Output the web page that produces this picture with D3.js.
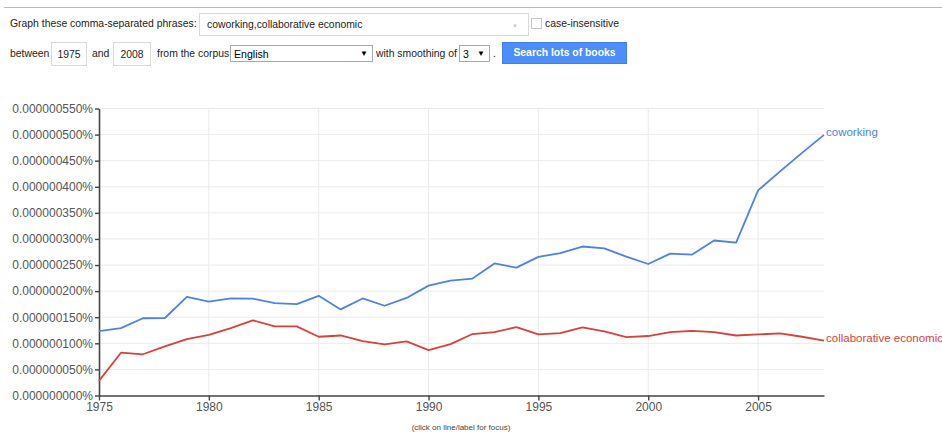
<!DOCTYPE html>
<html>
<head>
<meta charset="utf-8">
<script src="https://cdn.jsdelivr.net/npm/d3@7/dist/d3.min.js"></script>
<style>
  body { margin:0; width:942px; height:434px; background:#fff; font-family: Arial, "Liberation Sans", sans-serif; overflow:hidden; position:relative; }
  .abs { position:absolute; }
  .lbl { font-size:10.4px; color:#222; white-space:nowrap; }
  .box { border:1px solid #d9d9d9; background:#fff; box-sizing:border-box; font-size:10.4px; color:#222; white-space:nowrap; }
  .sel { border:1px solid #a9a9a9; background:#fff; box-sizing:border-box; font-size:10.6px; color:#000; }
  svg text { font-family: Arial, "Liberation Sans", sans-serif; }
</style>
</head>
<body>
<div class="abs" style="left:4px;top:7px;width:938px;height:0;border-top:1px solid #bbb;"></div>
<div class="abs lbl" style="left:10px;top:18px;">Graph these comma-separated phrases:</div>
<div class="abs box" style="left:199px;top:13px;width:330px;height:23px;padding:5px 0 0 7px;">coworking,collaborative economic</div>
<div class="abs" style="left:512px;top:23px;font-size:6px;color:#ccc;">▼</div>
<div class="abs" style="left:531px;top:18px;width:11px;height:11px;border:1px solid #c6c6c6;box-sizing:border-box;"></div>
<div class="abs lbl" style="left:545px;top:18px;">case-insensitive</div>
<div class="abs lbl" style="left:10px;top:48px;">between</div>
<div class="abs box" style="left:51px;top:42px;width:36px;height:24px;padding:6px 0 0 0;text-align:center;">1975</div>
<div class="abs lbl" style="left:92px;top:48px;">and</div>
<div class="abs box" style="left:113px;top:42px;width:38px;height:24px;padding:6px 0 0 0;text-align:center;">2008</div>
<div class="abs lbl" style="left:157px;top:48px;">from the corpus</div>
<div class="abs sel" style="left:230px;top:45px;width:143px;height:17px;padding:2px 0 0 3px;">English<span style="position:absolute;right:4px;top:3px;font-size:8px;">▼</span></div>
<div class="abs lbl" style="left:376px;top:48px;">with smoothing of</div>
<div class="abs sel" style="left:459px;top:45px;width:31px;height:17px;padding:2px 0 0 3px;">3<span style="position:absolute;right:4px;top:3px;font-size:8px;">▼</span></div>
<div class="abs lbl" style="left:493px;top:48px;">.</div>
<div class="abs" style="left:502px;top:42px;width:125px;height:22px;background:#4d8ef8;border:1px solid #3f7fe8;box-sizing:border-box;color:#fff;font-size:10.4px;font-weight:bold;text-align:center;line-height:20px;">Search lots of books</div>
<svg id="chart" class="abs" style="left:0;top:0;" width="942" height="434"></svg>
<script>
const years = d3.range(1975, 2009);
const coworking = [123.5,129,148,148.5,189,180,186,185.5,177,175,191,165,186,172,187,210.5,220,224,253,245,265.7,272.8,285.5,282,266,252,272,270,297,293,393,429.5,465,499.4];
const collaborative = [28,82,79,94,108,116,129,144,132.5,132.5,112.6,115,104,98,103.7,87,98.5,117.8,121.6,131,117,119.7,130.6,123,112,114,121.6,124,121.6,115,117,119,112.6,105];
const seriesNames = ["coworking", "collaborative economic"];
const seriesColors = ["#4f81e6", "#d9413b"];
const yTicks = [0,50,100,150,200,250,300,350,400,450,500,550];
const xTicks = [1975,1980,1985,1990,1995,2000,2005];

const svg = d3.select("#chart");
const pLeft = 99, pRight = 824, pTop = 108.5, pBottom = 395.5;
const x = d3.scaleLinear().domain([1975, 2008]).range([pLeft, pRight]);
const y = d3.scaleLinear().domain([0, 550]).range([pBottom, pTop]);
const fmt = v => "0." + String(Math.round(v)).padStart(9, "0") + "%";

// gridlines
svg.append("g").selectAll("line").data(yTicks.slice(1)).join("line")
  .attr("x1", pLeft).attr("x2", pRight).attr("y1", d => y(d)).attr("y2", d => y(d))
  .attr("stroke", "#ebebeb").attr("stroke-width", 1);
svg.append("g").selectAll("line").data(xTicks.slice(1)).join("line")
  .attr("x1", d => x(d)).attr("x2", d => x(d)).attr("y1", pTop).attr("y2", pBottom)
  .attr("stroke", "#ebebeb").attr("stroke-width", 1);

// axes
const yAxis = svg.append("g").attr("transform", `translate(${pLeft},0)`)
  .call(d3.axisLeft(y).tickValues(yTicks).tickFormat(fmt).tickSize(4).tickSizeOuter(0));
const xAxis = svg.append("g").attr("transform", `translate(0,${pBottom})`)
  .call(d3.axisBottom(x).tickValues(xTicks).tickFormat(d3.format("d")).tickSize(5).tickSizeOuter(0));
[yAxis, xAxis].forEach(a => {
  a.select(".domain").attr("stroke", "#444").attr("stroke-width", 1.6);
  a.selectAll(".tick line").attr("stroke", "#444").attr("stroke-width", 1.4);
  a.selectAll("text").attr("fill", "#555").attr("font-size", "12px");
});
yAxis.selectAll("text").attr("x", -6);
xAxis.selectAll("text").attr("y", 7);

// lines
const line = d3.line().x((d, i) => x(years[i])).y(d => y(d));
[coworking, collaborative].forEach((s, k) => {
  svg.append("path").datum(s).attr("d", line).attr("fill", "none")
    .attr("stroke", seriesColors[k]).attr("stroke-width", 1.8).attr("stroke-linejoin", "round");
  svg.append("text").attr("x", pRight + 2).attr("y", y(s[s.length - 1]) - 2)
    .attr("dominant-baseline", "middle").attr("fill", seriesColors[k]).attr("font-size", "11.5px")
    .text(seriesNames[k]);
});

svg.append("text").attr("x", 461).attr("y", 430).attr("text-anchor", "middle")
  .attr("font-size", "8px").attr("fill", "#444").text("(click on line/label for focus)");
</script>
</body>
</html>
